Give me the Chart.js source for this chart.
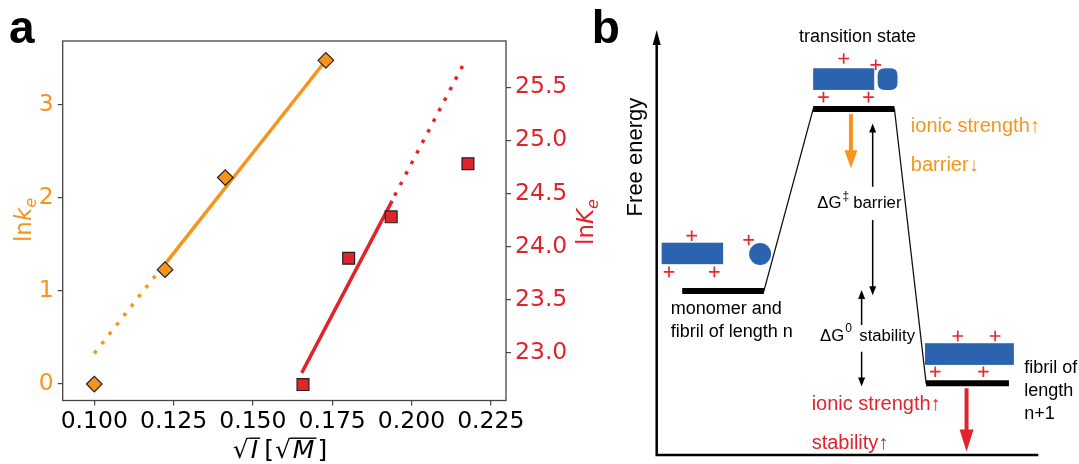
<!DOCTYPE html>
<html>
<head>
<meta charset="utf-8">
<script src="https://cdn.jsdelivr.net/npm/chart.js@4.4.0/dist/chart.umd.min.js"></script>
<style>
  html, body { margin: 0; padding: 0; background: #fff; }
  #wrap { position: relative; width: 1079px; height: 464px; overflow: hidden; background: #fff; }
  #ca { position: absolute; left: 0; top: 0; }
  #cb { position: absolute; left: 560px; top: 0; }
</style>
</head>
<body>
<div id="wrap">
  <canvas id="ca" width="600" height="464"></canvas>
  <canvas id="cb" width="519" height="464"></canvas>
</div>
<script>
// ---- panel a: measured points ----
const orangeX = [0.1000, 0.1223, 0.1413, 0.1730];
const orangeY = [0.00, 1.23, 2.22, 3.48];
const redX = [0.1658, 0.1802, 0.1936, 0.2178];
const redY = [22.70, 23.89, 24.28, 24.78];

// fit lines (solid = fitted range, dotted = extrapolation)
const orangeDotX = [0.1000, 0.1205];
const orangeDotY = [0.33, 1.22];
const orangeSolidX = [0.1223, 0.1728];
const orangeSolidY = [1.29, 3.47];
const redSolidX = [0.1654, 0.1939];
const redSolidY = [22.81, 24.43];
const redDotX = [0.1947, 0.2166];
const redDotY = [24.48, 25.73];

// ticks
const xTicks = [0.100, 0.125, 0.150, 0.175, 0.200, 0.225];
const leftTicks = [0, 1, 2, 3];
const rightTicks = [23.0, 23.5, 24.0, 24.5, 25.0, 25.5];

// ---- panel b: energy levels (reaction coordinate / free energy, 0-100) ----
const levelStart = [6.7, 41.0, 70.6];
const levelEnd = [28.1, 62.3, 92.3];
const levelG = [38.6, 81.4, 16.9];

const ORANGE = '#F7941D';
const RED = '#E0242B';
const BLUE = '#2B63AE';
const DJ = '"DejaVu Sans", sans-serif';
const LS = '"Liberation Sans", Arial, sans-serif';

const pts = (xs, ys) => xs.map((x, i) => ({ x: x, y: ys[i] }));

function drawRich(ctx, parts, x, y) {
  let cx = x;
  for (const p of parts) {
    ctx.font = p.font;
    ctx.fillStyle = p.color || '#000';
    const w = ctx.measureText(p.t).width;
    ctx.fillText(p.t, cx, y + (p.dy || 0));
    if (p.over) ctx.fillRect(cx - 2, y + p.over, w + 4, 1.4);
    cx += w + (p.dx || 0);
  }
  return cx - x;
}
function richWidth(ctx, parts) {
  let w = 0;
  for (const p of parts) { ctx.font = p.font; w += ctx.measureText(p.t).width + (p.dx || 0); }
  return w;
}

const frameA = {
  id: 'frameA',
  afterDraw(chart) {
    const ctx = chart.ctx, a = chart.chartArea;
    ctx.save();
    ctx.strokeStyle = '#444';
    ctx.lineWidth = 1.3;
    ctx.strokeRect(a.left, a.top, a.right - a.left, a.bottom - a.top);

    ctx.textBaseline = 'alphabetic';
    // left title
    const lt = [
      { t: 'ln', font: '23px ' + DJ, color: ORANGE },
      { t: 'k', font: 'italic 23px ' + DJ, color: ORANGE },
      { t: 'e', font: 'italic 16px ' + DJ, color: ORANGE, dy: 5 }
    ];
    ctx.save();
    ctx.translate(31, 220);
    ctx.rotate(-Math.PI / 2);
    drawRich(ctx, lt, -richWidth(ctx, lt) / 2, 0);
    ctx.restore();
    // right title
    const rt = [
      { t: 'ln', font: '23px ' + DJ, color: RED },
      { t: 'K', font: 'italic 23px ' + DJ, color: RED },
      { t: 'e', font: 'italic 16px ' + DJ, color: RED, dy: 5 }
    ];
    ctx.save();
    ctx.translate(593, 222);
    ctx.rotate(-Math.PI / 2);
    drawRich(ctx, rt, -richWidth(ctx, rt) / 2, 0);
    ctx.restore();
    // x title
    const xt = [
      { t: '\u221A', font: '25px ' + DJ, dx: 2 },
      { t: 'I', font: 'italic 25px ' + DJ, over: -20.5, dx: 6 },
      { t: '[', font: '25px ' + DJ, dx: 1 },
      { t: '\u221A', font: '25px ' + DJ, dx: 2 },
      { t: 'M', font: 'italic 25px ' + DJ, over: -20.5, dx: 3 },
      { t: ']', font: '25px ' + DJ }
    ];
    drawRich(ctx, xt, 280 - richWidth(ctx, xt) / 2, 458);

    ctx.fillStyle = '#000';
    ctx.font = 'bold 46px ' + LS;
    ctx.fillText('a', 9, 43);
    ctx.restore();
  }
};

const tickFont = { family: 'DejaVu Sans', size: 23.5 };
const tickGrid = { drawOnChartArea: false, tickLength: 5, color: '#444', lineWidth: 1.2 };

new Chart(document.getElementById('ca'), {
  type: 'scatter',
  data: {
    datasets: [
      { data: pts(orangeX, orangeY), yAxisID: 'y', pointStyle: 'rectRot', pointRadius: 7.8,
        backgroundColor: ORANGE, borderColor: '#222', borderWidth: 1.2 },
      { data: pts(redX, redY), yAxisID: 'y2', pointStyle: 'rect', pointRadius: 8.4,
        backgroundColor: RED, borderColor: '#222', borderWidth: 1.2 },
      { type: 'line', data: pts(orangeSolidX, orangeSolidY), yAxisID: 'y', borderColor: ORANGE,
        borderWidth: 3.5, pointRadius: 0, fill: false },
      { type: 'line', data: pts(orangeDotX, orangeDotY), yAxisID: 'y', borderColor: ORANGE,
        borderWidth: 3.5, borderDash: [3.5, 8.4], pointRadius: 0, fill: false },
      { type: 'line', data: pts(redSolidX, redSolidY), yAxisID: 'y2', borderColor: RED,
        borderWidth: 3.5, pointRadius: 0, fill: false },
      { type: 'line', data: pts(redDotX, redDotY), yAxisID: 'y2', borderColor: RED,
        borderWidth: 3.5, borderDash: [3.5, 8.4], pointRadius: 0, fill: false }
    ]
  },
  options: {
    responsive: false,
    animation: false,
    devicePixelRatio: 1,
    layout: { padding: { top: 41, left: 0, right: 0, bottom: 0 } },
    plugins: { legend: { display: false }, tooltip: { enabled: false } },
    scales: {
      x: {
        type: 'linear', min: 0.09004, max: 0.2298,
        afterBuildTicks: s => { s.ticks = xTicks.map(v => ({ value: v })); },
        afterFit: s => { s.height = 63.5; },
        ticks: { color: '#000', font: tickFont, padding: 2, maxRotation: 0, autoSkip: false,
          callback: v => v.toFixed(3) },
        grid: tickGrid, border: { display: false }
      },
      y: {
        type: 'linear', position: 'left', min: -0.177, max: 3.688,
        afterBuildTicks: s => { s.ticks = leftTicks.map(v => ({ value: v })); },
        afterFit: s => { s.width = 62.7; },
        ticks: { color: ORANGE, font: tickFont, padding: 4, callback: v => String(v) },
        grid: tickGrid, border: { display: false }
      },
      y2: {
        type: 'linear', position: 'right', min: 22.55, max: 25.936,
        afterBuildTicks: s => { s.ticks = rightTicks.map(v => ({ value: v })); },
        afterFit: s => { s.width = 94; },
        ticks: { color: RED, font: tickFont, padding: 4, callback: v => v.toFixed(1) },
        grid: tickGrid, border: { display: false }
      }
    }
  },
  plugins: [frameA]
});

// ---- panel b ----
function arrowHead(ctx, x, y, dir, len, half) {
  ctx.beginPath();
  ctx.moveTo(x, y);
  ctx.lineTo(x - half, y - dir * len);
  ctx.lineTo(x + half, y - dir * len);
  ctx.closePath();
  ctx.fill();
}
function plus(ctx, x, y) {
  ctx.beginPath();
  ctx.moveTo(x - 5.3, y); ctx.lineTo(x + 5.3, y);
  ctx.moveTo(x, y - 5.3); ctx.lineTo(x, y + 5.3);
  ctx.stroke();
}
function roundBox(ctx, x0, y0, x1, y1, r) {
  ctx.beginPath();
  ctx.moveTo(x0 + r, y0);
  ctx.lineTo(x1 - r, y0); ctx.quadraticCurveTo(x1, y0, x1, y0 + r);
  ctx.lineTo(x1, y1 - r); ctx.quadraticCurveTo(x1, y1, x1 - r, y1);
  ctx.lineTo(x0 + r, y1); ctx.quadraticCurveTo(x0, y1, x0, y1 - r);
  ctx.lineTo(x0, y0 + r); ctx.quadraticCurveTo(x0, y0, x0 + r, y0);
  ctx.closePath();
  ctx.fill();
}

const diagram = {
  id: 'diagram',
  afterDraw(chart) {
    const ctx = chart.ctx, a = chart.chartArea;
    const X = v => chart.scales.x.getPixelForValue(v);
    const Y = v => chart.scales.y.getPixelForValue(v);
    ctx.save();

    // axes
    ctx.strokeStyle = '#000';
    ctx.fillStyle = '#000';
    ctx.lineWidth = 2.5;
    ctx.beginPath();
    ctx.moveTo(a.left, a.top + 12);
    ctx.lineTo(a.left, a.bottom);
    ctx.lineTo(a.right, a.bottom);
    ctx.stroke();
    arrowHead(ctx, a.left, a.top, -1, 15, 4);

    // fibrils (blue blocks) and monomer
    ctx.fillStyle = BLUE;
    ctx.fillRect(X(1.3), Y(49.95), X(17.4) - X(1.3), Y(44.9) - Y(49.95));
    ctx.fillRect(X(41.0), Y(91.0), X(57.0) - X(41.0), Y(85.9) - Y(91.0));
    roundBox(ctx, X(57.9), Y(91.0), X(63.1), Y(85.9), 7);
    ctx.fillRect(X(70.3), Y(26.3), X(93.6) - X(70.3), Y(21.2) - Y(26.3));
    ctx.beginPath();
    ctx.arc(X(27.1), Y(47.3), 11, 0, Math.PI * 2);
    ctx.fill();

    // charges
    ctx.strokeStyle = '#E8282D';
    ctx.lineWidth = 1.7;
    [[9.17, 51.6], [24.1, 50.6], [3.22, 43.1], [15.1, 43.1],
     [49.0, 93.3], [57.4, 91.8], [43.7, 84.2], [55.5, 84.2],
     [78.9, 28.0], [88.7, 28.0], [73.0, 19.6], [85.6, 19.6]].forEach(p => plus(ctx, X(p[0]), Y(p[1])));

    // orange arrow (barrier lowered)
    ctx.strokeStyle = ORANGE; ctx.fillStyle = ORANGE; ctx.lineWidth = 4;
    ctx.beginPath(); ctx.moveTo(X(50.9), Y(80.2)); ctx.lineTo(X(50.9), Y(67.5) - 16); ctx.stroke();
    arrowHead(ctx, X(50.9), Y(67.5), 1, 18, 6.5);

    // red arrow (stability raised)
    ctx.strokeStyle = RED; ctx.fillStyle = RED; ctx.lineWidth = 4;
    ctx.beginPath(); ctx.moveTo(X(81.2), Y(15.7)); ctx.lineTo(X(81.2), Y(0.8) - 20); ctx.stroke();
    arrowHead(ctx, X(81.2), Y(0.8), 1, 22, 7);

    // double arrows
    ctx.strokeStyle = '#000'; ctx.fillStyle = '#000'; ctx.lineWidth = 1.5;
    const dbl = (x, top, g0, g1, bot) => {
      ctx.beginPath();
      ctx.moveTo(X(x), Y(top) + 8); ctx.lineTo(X(x), Y(g0));
      ctx.moveTo(X(x), Y(g1)); ctx.lineTo(X(x), Y(bot) - 8);
      ctx.stroke();
      arrowHead(ctx, X(x), Y(top), -1, 9, 3.5);
      arrowHead(ctx, X(x), Y(bot), 1, 9, 3.5);
    };
    dbl(56.6, 78.0, 63.1, 55.3, 37.6);
    dbl(53.7, 38.8, 30.6, 24.3, 16.1);

    // labels
    ctx.textBaseline = 'middle';
    ctx.fillStyle = '#000';
    ctx.font = '18px ' + LS;
    ctx.textAlign = 'center';
    ctx.fillText('transition state', X(52.6), Y(98.3));
    ctx.textAlign = 'left';
    ctx.fillText('monomer and', X(3.67), Y(34.35));
    ctx.fillText('fibril of length n', X(3.67), Y(28.87));
    ctx.fillText('fibril of', X(96.33), Y(20.54));
    ctx.fillText('length', X(96.33), Y(15.13));
    ctx.fillText('n+1', X(96.33), Y(9.58));

    ctx.font = '16.7px ' + LS;
    const wdg = ctx.measureText('\u0394G').width;
    ctx.fillText('\u0394G', X(42.09), Y(59.2));
    ctx.fillText('barrier', X(51.5), Y(59.2));
    ctx.fillText('\u0394G', X(42.8), Y(28.0));
    ctx.fillText('stability', X(53.1), Y(28.0));
    ctx.font = '12px ' + LS;
    ctx.fillText('\u2021', X(42.09) + wdg + 1, Y(59.2) - 7);
    ctx.fillText('0', X(42.8) + wdg + 1, Y(28.0) - 7);

    ctx.font = '20px ' + LS;
    ctx.fillStyle = ORANGE;
    ctx.fillText('ionic strength\u2191', X(66.6), Y(77.2));
    ctx.fillText('barrier\u2193', X(66.6), Y(68.1));
    ctx.fillStyle = RED;
    ctx.fillText('ionic strength\u2191', X(40.6), Y(12.0));
    ctx.fillText('stability\u2191', X(40.6), Y(2.6));

    ctx.fillStyle = '#000';
    ctx.font = '22px ' + LS;
    ctx.save();
    ctx.translate(a.left - 20.7, Y(70.1));
    ctx.rotate(-Math.PI / 2);
    ctx.textAlign = 'center';
    ctx.fillText('Free energy', 0, 0);
    ctx.restore();

    ctx.textBaseline = 'alphabetic';
    ctx.textAlign = 'left';
    ctx.font = 'bold 46px ' + LS;
    ctx.fillText('b', a.left - 65, 43);
    ctx.restore();
  }
};

const levelPts = [];
levelStart.forEach((x0, i) => {
  levelPts.push({ x: x0, y: levelG[i] }, { x: levelEnd[i], y: levelG[i] });
  if (i < levelStart.length - 1) levelPts.push({ x: (levelEnd[i] + levelStart[i + 1]) / 2, y: null });
});
const profilePts = [];
levelStart.forEach((x0, i) => { profilePts.push({ x: x0, y: levelG[i] }, { x: levelEnd[i], y: levelG[i] }); });

new Chart(document.getElementById('cb'), {
  type: 'scatter',
  data: {
    datasets: [
      { data: levelPts, showLine: true, spanGaps: false, borderColor: '#000', borderWidth: 6,
        borderCapStyle: 'butt', pointRadius: 0 },
      { data: profilePts, showLine: true, borderColor: '#111', borderWidth: 1.3, pointRadius: 0 }
    ]
  },
  options: {
    responsive: false,
    animation: false,
    devicePixelRatio: 1,
    layout: { padding: { left: 96.7, right: 40.7, top: 30, bottom: 9 } },
    plugins: { legend: { display: false }, tooltip: { enabled: false } },
    scales: {
      x: { type: 'linear', min: 0, max: 100, display: false },
      y: { type: 'linear', min: 0, max: 100, display: false }
    }
  },
  plugins: [diagram]
});
</script>
</body>
</html>
